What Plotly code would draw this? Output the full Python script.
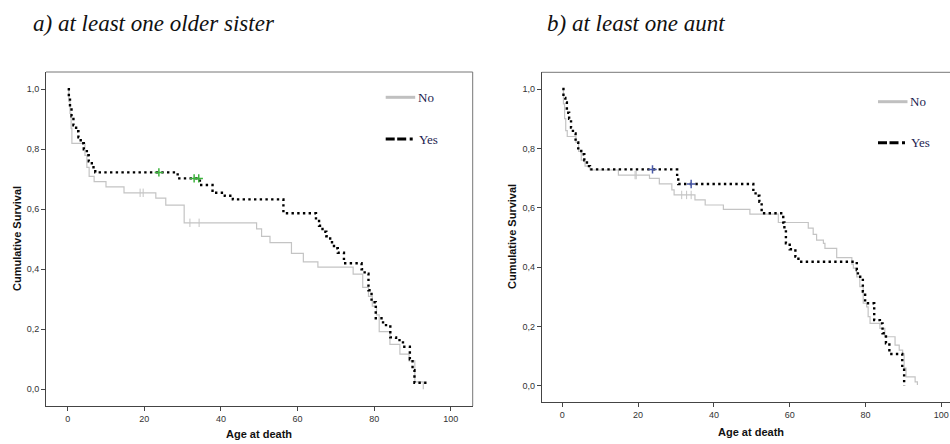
import plotly.graph_objects as go

W, H = 950, 444

# ---------------- Data ----------------
# Panel a) at least one older sister
a_no_t = [0, 0.3, 0.6, 0.9, 1.1, 4.5, 5.0, 5.6, 6.9, 10.0, 14.7, 23.0, 25.6, 30.4,
          49.3, 50.6, 52.8, 58.4, 61.5, 65.3, 74.5, 77.0, 78.5, 79.5, 80.6, 81.3,
          84.1, 86.7, 89.1, 90.6, 92.8]
a_no_s = [1.0, 0.96, 0.92, 0.87, 0.82, 0.78, 0.74, 0.71, 0.692, 0.675, 0.655, 0.637, 0.614, 0.555,
          0.535, 0.51, 0.489, 0.453, 0.425, 0.407, 0.384, 0.34, 0.31, 0.277, 0.248, 0.192,
          0.15, 0.117, 0.095, 0.025, 0.0]
a_no_cens_t = [18.9, 19.7, 31.9, 34.3]
a_no_cens_s = [0.655, 0.655, 0.555, 0.555]

a_yes_t = [0, 0.3, 0.6, 1.0, 1.5, 2.2, 2.8, 3.4, 4.2, 5.0, 5.5, 6.3, 7.2,
           28.7, 34.5, 37.8, 41.0, 43.1, 56.3, 64.8, 65.6, 66.5, 67.5, 68.5, 69.5,
           70.5, 72.1, 76.7, 77.5, 78.5, 79.3, 80.4, 82.3, 84.2, 85.7, 87.5, 89.3,
           90.0, 90.5, 94.0]
a_yes_s = [1.0, 0.97, 0.94, 0.91, 0.88, 0.86, 0.84, 0.82, 0.80, 0.78, 0.76, 0.74, 0.723,
           0.703, 0.681, 0.655, 0.645, 0.633, 0.587, 0.565, 0.545, 0.525, 0.51, 0.49, 0.47,
           0.455, 0.42, 0.40, 0.385, 0.33, 0.29, 0.237, 0.214, 0.173, 0.164, 0.142, 0.10,
           0.064, 0.022, 0.022]
a_yes_cens_t = [23.8, 33.0, 34.2]
a_yes_cens_s = [0.723, 0.703, 0.703]

# Panel b) at least one aunt
b_no_t = [0, 0.3, 0.6, 0.9, 1.3, 3.6, 4.3, 5.0, 6.0, 7.3, 14.8, 23.0, 25.6, 28.9, 29.5,
          35.0, 37.7, 42.5, 49.5, 57.0, 64.9, 66.2, 67.1, 68.9, 69.3, 72.4, 76.4, 76.8,
          77.7, 78.5, 79.4, 80.3, 80.7, 81.2, 83.8, 85.1, 87.8, 88.9, 89.8, 90.2, 90.7,
          93.1, 93.7]
b_no_s = [1.0, 0.95, 0.90, 0.86, 0.84, 0.82, 0.79, 0.76, 0.74, 0.727, 0.71, 0.699, 0.68, 0.66, 0.643,
          0.626, 0.609, 0.594, 0.578, 0.55, 0.531, 0.51, 0.491, 0.48, 0.463, 0.432, 0.41, 0.396,
          0.367, 0.334, 0.278, 0.266, 0.233, 0.21, 0.193, 0.165, 0.137, 0.12, 0.107, 0.059, 0.03,
          0.013, 0.002]
b_no_cens_t = [19.2, 19.5, 31.5, 32.8, 34.0]
b_no_cens_s = [0.71, 0.71, 0.643, 0.643, 0.643]

b_yes_t = [0, 0.3, 0.8, 1.2, 1.8, 2.3, 2.8, 3.5, 4.2, 5.0, 5.8, 6.5, 7.3,
           30.3, 30.6, 50.4, 51.0, 52.0, 52.6, 58.3, 58.6, 59.0, 60.0, 61.5, 62.3,
           77.7, 78.0, 79.3, 79.9, 82.3, 83.8, 84.5, 85.4, 86.3, 89.7, 90.2]
b_yes_s = [1.0, 0.97, 0.955, 0.92, 0.90, 0.87, 0.85, 0.82, 0.80, 0.78, 0.76, 0.74, 0.729,
           0.70, 0.68, 0.66, 0.64, 0.62, 0.581, 0.55, 0.52, 0.48, 0.46, 0.435, 0.418,
           0.39, 0.367, 0.317, 0.278, 0.221, 0.21, 0.177, 0.143, 0.107, 0.059, 0.0]
b_yes_cens_t = [23.8, 34.0]
b_yes_cens_s = [0.729, 0.68]

x_ticks = [0, 20, 40, 60, 80, 100]
y_ticks = [0.0, 0.2, 0.4, 0.6, 0.8, 1.0]
y_tick_text = ["0,0", "0,2", "0,4", "0,6", "0,8", "1,0"]

legend_labels = ["No", "Yes"]
titles = ["a) at least one older sister", "b) at least one aunt"]

# ---------------- Styles ----------------
GRAY = "#c4c4c4"
YES_DASH = "2.4px,3.3px"

def px(x):
    return x / W

def py(y):
    return 1 - y / H

fig = go.Figure()

panels = [
    dict(no_t=a_no_t, no_s=a_no_s, nc_t=a_no_cens_t, nc_s=a_no_cens_s,
         yes_t=a_yes_t, yes_s=a_yes_s, yc_t=a_yes_cens_t, yc_s=a_yes_cens_s,
         cens_color="#3cb43c", xa="x", ya="y"),
    dict(no_t=b_no_t, no_s=b_no_s, nc_t=b_no_cens_t, nc_s=b_no_cens_s,
         yes_t=b_yes_t, yes_s=b_yes_s, yc_t=b_yes_cens_t, yc_s=b_yes_cens_s,
         cens_color="#4a5aa8", xa="x2", ya="y2"),
]

for p in panels:
    fig.add_trace(go.Scatter(x=p["no_t"], y=p["no_s"], mode="lines", line_shape="hv",
                             line=dict(color=GRAY, width=1.2), xaxis=p["xa"], yaxis=p["ya"],
                             showlegend=False, hoverinfo="skip"))
    fig.add_trace(go.Scatter(x=p["nc_t"], y=p["nc_s"], mode="markers",
                             marker=dict(symbol="line-ns", size=6, line=dict(color=GRAY, width=1)),
                             xaxis=p["xa"], yaxis=p["ya"], showlegend=False, hoverinfo="skip"))
    fig.add_trace(go.Scatter(x=p["yes_t"], y=p["yes_s"], mode="lines", line_shape="hv",
                             line=dict(color="#000000", width=2.4, dash=YES_DASH),
                             xaxis=p["xa"], yaxis=p["ya"], showlegend=False, hoverinfo="skip"))
    fig.add_trace(go.Scatter(x=p["yc_t"], y=p["yc_s"], mode="markers",
                             marker=dict(symbol="cross-thin", size=6,
                                         line=dict(color=p["cens_color"], width=1.5)),
                             xaxis=p["xa"], yaxis=p["ya"], showlegend=False, hoverinfo="skip"))

axis_common = dict(showgrid=False, zeroline=False, showline=True, linecolor="#444444",
                   linewidth=1, ticks="outside", ticklen=4, tickcolor="#444444",
                   tickfont=dict(family="Liberation Sans, Arial", size=9, color="#333333"))

fig.update_layout(
    width=W, height=H, margin=dict(l=0, r=0, t=0, b=0),
    paper_bgcolor="white", plot_bgcolor="white", showlegend=False,
    xaxis=dict(domain=[px(46), px(472.7)], range=[-5.66, 105.7], anchor="y",
               tickvals=x_ticks, **axis_common),
    yaxis=dict(domain=[py(406), py(72)], range=[-0.0557, 1.0577], anchor="x",
               tickvals=y_ticks, ticktext=y_tick_text, **axis_common),
    xaxis2=dict(domain=[px(541.7), 1.0], range=[-5.44, 102.3], anchor="y2",
                tickvals=x_ticks, **axis_common),
    yaxis2=dict(domain=[py(402), py(72.3)], range=[-0.0549, 1.0563], anchor="x2",
                tickvals=y_ticks, ticktext=y_tick_text, **axis_common),
)

shapes = []
# borders (top / right) in lighter gray
border = dict(color="#777777", width=1)
shapes.append(dict(type="line", xref="paper", yref="paper", x0=px(46), x1=px(472.7),
                   y0=py(72), y1=py(72), line=border))
shapes.append(dict(type="line", xref="paper", yref="paper", x0=px(472.7), x1=px(472.7),
                   y0=py(72), y1=py(406), line=border))
shapes.append(dict(type="line", xref="paper", yref="paper", x0=px(541.7), x1=1.0,
                   y0=py(72.3), y1=py(72.3), line=border))

annotations = []
legend_pos = [(385.7, 97.3, 139.0), (878.0, 101.7, 142.7)]
for (lx, y_no, y_yes) in legend_pos:
    shapes.append(dict(type="line", xref="paper", yref="paper", x0=px(lx), x1=px(lx + 29.5),
                       y0=py(y_no), y1=py(y_no), line=dict(color="#c0c0c0", width=3)))
    shapes.append(dict(type="line", xref="paper", yref="paper", x0=px(lx), x1=px(lx + 30),
                       y0=py(y_yes), y1=py(y_yes),
                       line=dict(color="#000000", width=3, dash="9px,2.5px,9px,3.5px,3px,30px")))
    annotations.append(dict(text=legend_labels[0], xref="paper", yref="paper", x=px(lx + 30),
                            y=py(y_no), xanchor="left", yanchor="middle", showarrow=False,
                            font=dict(family="Liberation Serif, Times New Roman", size=13,
                                      color="#1c1c50")))
    annotations.append(dict(text=legend_labels[1], xref="paper", yref="paper", x=px(lx + 31),
                            y=py(y_yes), xanchor="left", yanchor="middle", showarrow=False,
                            font=dict(family="Liberation Serif, Times New Roman", size=13,
                                      color="#1c1c50")))

# panel titles
for tx, t in zip([31, 545], titles):
    annotations.append(dict(text="<i>" + t + "</i>", xref="paper", yref="paper", x=px(tx),
                            y=py(23), xanchor="left", yanchor="middle", showarrow=False,
                            font=dict(family="Liberation Serif, Times New Roman", size=23,
                                      color="#111111")))

# axis titles
bold = dict(family="Liberation Sans, Arial", size=11, color="#111111")
for (xc, yc) in [(17, 239), (512, 237)]:
    annotations.append(dict(text="<b>Cumulative Survival</b>", xref="paper", yref="paper",
                            x=px(xc), y=py(yc), textangle=-90, showarrow=False,
                            xanchor="center", yanchor="middle", font=bold))
for (xc, yc) in [(259, 434), (751, 432)]:
    annotations.append(dict(text="<b>Age at death</b>", xref="paper", yref="paper",
                            x=px(xc), y=py(yc), showarrow=False,
                            xanchor="center", yanchor="middle", font=bold))

fig.update_layout(shapes=shapes, annotations=annotations)
fig.write_html("out.html", config={"displayModeBar": False},
               post_script="document.body.style.margin='0';document.body.style.padding='0';"
                           "document.documentElement.style.overflow='hidden';")
